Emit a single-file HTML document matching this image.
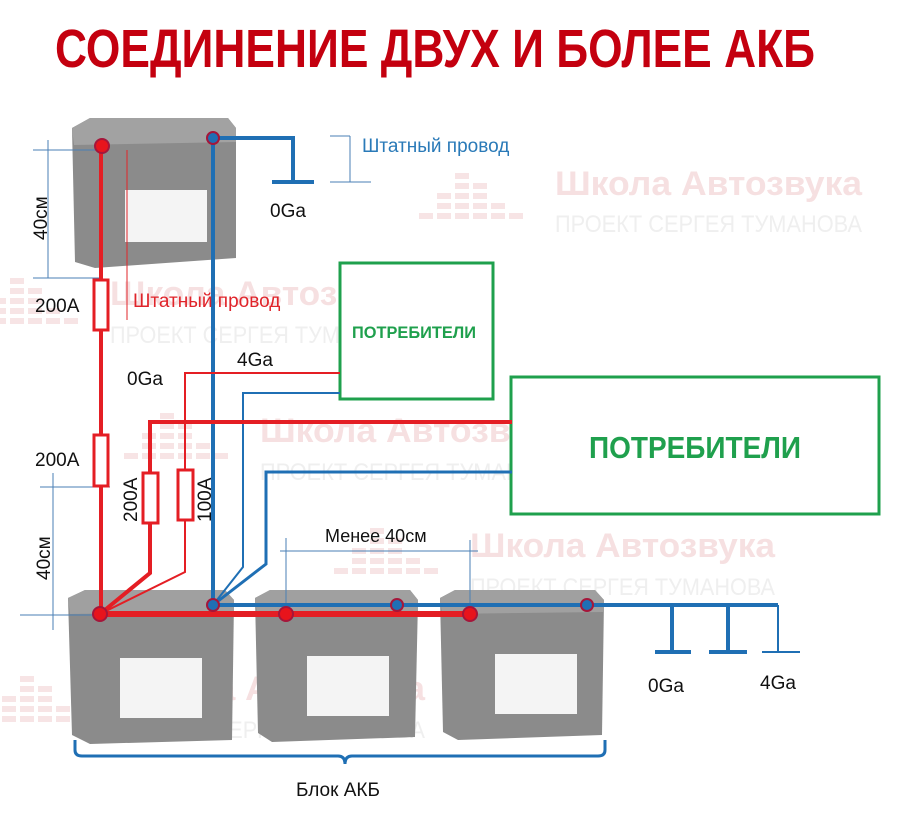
<!DOCTYPE html>
<html><head><meta charset="utf-8"><style>
html,body{margin:0;padding:0;background:#fff;}
svg{display:block;font-family:"Liberation Sans","DejaVu Sans",sans-serif;}
</style></head><body>
<svg width="898" height="816" viewBox="0 0 898 816" xmlns="http://www.w3.org/2000/svg">
<defs>
<g id="wm">
  <g fill="#f7e4e5">
    <rect x="-100" y="-12" width="14" height="6"/><rect x="-82" y="-2" width="14" height="6"/><rect x="-100" y="-2" width="14" height="6"/>
    <rect x="-100" y="8" width="14" height="6"/><rect x="-82" y="8" width="14" height="6"/><rect x="-118" y="8" width="14" height="6"/>
    <rect x="-100" y="18" width="14" height="6"/><rect x="-82" y="18" width="14" height="6"/><rect x="-118" y="18" width="14" height="6"/><rect x="-64" y="18" width="14" height="6"/>
    <rect x="-100" y="28" width="14" height="6"/><rect x="-82" y="28" width="14" height="6"/><rect x="-118" y="28" width="14" height="6"/><rect x="-64" y="28" width="14" height="6"/><rect x="-136" y="28" width="14" height="6"/><rect x="-46" y="28" width="14" height="6"/>
  </g>
</g>
</defs>
<!-- watermarks -->
<g font-weight="bold">
<g transform="translate(555,0)"><use href="#wm" y="185" x="0"/>
<text x="0" y="195" font-size="34" fill="#f6e0e1" textLength="307" lengthAdjust="spacingAndGlyphs">Школа Автозвука</text>
<text x="0" y="232" font-size="24" font-weight="normal" fill="#efefef" textLength="307" lengthAdjust="spacingAndGlyphs">ПРОЕКТ СЕРГЕЯ ТУМАНОВА</text></g>
<g transform="translate(110,0)"><use href="#wm" y="290"/>
<text x="0" y="305" font-size="34" fill="#f6e0e1" textLength="305" lengthAdjust="spacingAndGlyphs">Школа Автозвука</text>
<text x="0" y="343" font-size="24" font-weight="normal" fill="#efefef" textLength="305" lengthAdjust="spacingAndGlyphs">ПРОЕКТ СЕРГЕЯ ТУМАНОВА</text></g>
<g transform="translate(260,0)"><use href="#wm" y="425"/>
<text x="0" y="442" font-size="34" fill="#f6e0e1" textLength="307" lengthAdjust="spacingAndGlyphs">Школа Автозвука</text>
<text x="0" y="480" font-size="24" font-weight="normal" fill="#efefef" textLength="307" lengthAdjust="spacingAndGlyphs">ПРОЕКТ СЕРГЕЯ ТУМАНОВА</text></g>
<g transform="translate(470,0)"><use href="#wm" y="540"/>
<text x="0" y="557" font-size="34" fill="#f6e0e1" textLength="305" lengthAdjust="spacingAndGlyphs">Школа Автозвука</text>
<text x="0" y="595" font-size="24" font-weight="normal" fill="#efefef" textLength="305" lengthAdjust="spacingAndGlyphs">ПРОЕКТ СЕРГЕЯ ТУМАНОВА</text></g>
<g transform="translate(120,0)"><use href="#wm" y="688"/>
<text x="0" y="700" font-size="34" fill="#f6e0e1" textLength="305" lengthAdjust="spacingAndGlyphs">Школа Автозвука</text>
<text x="0" y="738" font-size="24" font-weight="normal" fill="#efefef" textLength="305" lengthAdjust="spacingAndGlyphs">ПРОЕКТ СЕРГЕЯ ТУМАНОВА</text></g>
</g>

<!-- title -->
<text x="55" y="67" font-size="54" font-weight="bold" fill="#c4000f" textLength="760" lengthAdjust="spacingAndGlyphs">СОЕДИНЕНИЕ ДВУХ И БОЛЕЕ АКБ</text>

<!-- batteries -->
<g>
  <polygon points="72,128 90,118 228,118 236,128 236,258 95,268 75,262" fill="#8b8b8b"/>
  <polygon points="72,128 90,118 228,118 236,128 236,142 74,145" fill="#a2a2a2"/>
  <rect x="125" y="190" width="82" height="52" fill="#f4f4f4"/>
  <polygon points="68,598 85,590 225,590 234,600 232,740 90,744 72,735" fill="#8b8b8b"/>
  <polygon points="68,598 85,590 225,590 234,600 234,612 70,614" fill="#a0a0a0"/>
  <rect x="120" y="658" width="82" height="60" fill="#f4f4f4"/>
  <polygon points="255,598 270,590 410,590 418,600 415,737 272,742 258,733" fill="#8b8b8b"/>
  <polygon points="255,598 270,590 410,590 418,600 418,612 257,614" fill="#a0a0a0"/>
  <rect x="307" y="656" width="82" height="60" fill="#f4f4f4"/>
  <polygon points="440,598 455,590 595,590 604,600 602,735 458,740 443,732" fill="#8b8b8b"/>
  <polygon points="440,598 455,590 595,590 604,600 604,612 442,614" fill="#a0a0a0"/>
  <rect x="495" y="654" width="82" height="60" fill="#f4f4f4"/>
</g>

<!-- dimension lines (thin blue) -->
<g stroke="#4a7fb5" stroke-width="1" fill="none">
  <line x1="48" y1="140" x2="48" y2="278"/><line x1="33" y1="150" x2="100" y2="150"/><line x1="33" y1="278" x2="100" y2="278"/>
  <line x1="53" y1="473" x2="53" y2="630"/><line x1="40" y1="487" x2="110" y2="487"/><line x1="20" y1="615" x2="100" y2="615"/>
  <line x1="280" y1="551" x2="478" y2="551"/><line x1="286" y1="538" x2="286" y2="614"/><line x1="470" y1="540" x2="470" y2="614"/>
  <line x1="330" y1="182" x2="371" y2="182"/><line x1="350" y1="136" x2="350" y2="182"/><line x1="330" y1="136" x2="350" y2="136"/>
  <line x1="127" y1="150" x2="127" y2="320" stroke="#e0242a"/>
</g>

<!-- green boxes -->
<rect x="340" y="263" width="153" height="136" fill="#fff" stroke="#1fa04d" stroke-width="3"/>
<text x="414" y="338" font-size="17" font-weight="bold" fill="#1fa04d" text-anchor="middle" textLength="124" lengthAdjust="spacingAndGlyphs">ПОТРЕБИТЕЛИ</text>
<rect x="511" y="377" width="368" height="137" fill="#fff" stroke="#1fa04d" stroke-width="3"/>
<text x="695" y="458" font-size="31" font-weight="bold" fill="#1fa04d" text-anchor="middle" textLength="212" lengthAdjust="spacingAndGlyphs">ПОТРЕБИТЕЛИ</text>

<!-- blue wires -->
<g stroke="#1f6fb4" fill="none">
  <polyline points="213,138 293,138 293,182" stroke-width="4"/>
  <line x1="272" y1="182" x2="314" y2="182" stroke-width="4"/>
  <line x1="213" y1="138" x2="213" y2="605" stroke-width="4"/>
  <polyline points="213,605 243,567 243,393 340,393" stroke-width="2"/>
  <polyline points="213,605 266,564 266,472 512,472" stroke-width="3"/>
  <line x1="213" y1="605" x2="778" y2="605" stroke-width="4"/>
  <line x1="672" y1="605" x2="672" y2="652" stroke-width="4"/><line x1="655" y1="652" x2="691" y2="652" stroke-width="4"/>
  <line x1="728" y1="605" x2="728" y2="652" stroke-width="4"/><line x1="709" y1="652" x2="747" y2="652" stroke-width="4"/>
  <line x1="778" y1="605" x2="778" y2="652" stroke-width="2"/><line x1="762" y1="652" x2="800" y2="652" stroke-width="2"/>
</g>

<!-- red wires -->
<g stroke="#e41e24" fill="none">
  <line x1="101" y1="146" x2="101" y2="614" stroke-width="4"/>
  <line x1="100" y1="614" x2="470" y2="614" stroke-width="6"/>
  <polyline points="100,614 150,573 150,422 512,422" stroke-width="4"/>
  <polyline points="100,614 185,572 185,373 340,373" stroke-width="2"/>
  <rect x="94" y="280" width="14" height="50" fill="#fff" stroke-width="3"/>
  <rect x="94" y="435" width="14" height="51" fill="#fff" stroke-width="3"/>
  <rect x="143" y="473" width="15" height="50" fill="#fff" stroke-width="3"/>
  <rect x="178" y="470" width="15" height="50" fill="#fff" stroke-width="3"/>
</g>

<!-- terminals -->
<g stroke="#a5163a" stroke-width="2">
  <circle cx="102" cy="146" r="7" fill="#e8141c"/>
  <circle cx="100" cy="614" r="7" fill="#e8141c"/>
  <circle cx="286" cy="614" r="7" fill="#e8141c"/>
  <circle cx="470" cy="614" r="7" fill="#e8141c"/>
  <circle cx="213" cy="138" r="6" fill="#1f6fb4"/>
  <circle cx="213" cy="605" r="6" fill="#1f6fb4"/>
  <circle cx="397" cy="605" r="6" fill="#1f6fb4"/>
  <circle cx="587" cy="605" r="6" fill="#1f6fb4"/>
</g>

<!-- brace -->
<path d="M75,740 L75,750 Q75,756 82,756 L338,756 Q345,756 345,764 Q345,756 352,756 L598,756 Q605,756 605,750 L605,740" stroke="#1f6fb4" stroke-width="3" fill="none"/>

<!-- labels -->
<g font-size="19" fill="#111">
  <text x="270" y="217">0Ga</text>
  <text x="127" y="385">0Ga</text>
  <text x="237" y="366">4Ga</text>
  <text x="35" y="312">200A</text>
  <text x="35" y="466">200A</text>
  <text x="325" y="542" font-size="18">Менее 40см</text>
  <text x="648" y="692">0Ga</text>
  <text x="760" y="689">4Ga</text>
  <text x="296" y="796">Блок АКБ</text>
  <text transform="translate(47,240) rotate(-90)">40см</text>
  <text transform="translate(50,580) rotate(-90)">40см</text>
  <text transform="translate(137,522) rotate(-90)">200A</text>
  <text transform="translate(211,522) rotate(-90)">100A</text>
</g>
<text x="133" y="307" font-size="19" fill="#e0242a">Штатный провод</text>
<text x="362" y="152" font-size="19" fill="#2a7ab8">Штатный провод</text>
</svg>
</body></html>
